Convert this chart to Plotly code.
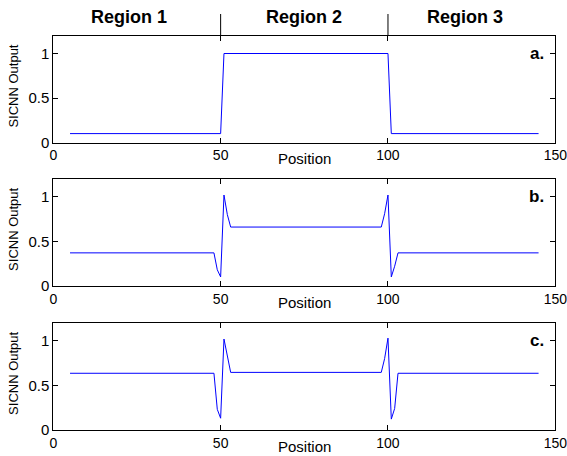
import plotly.graph_objects as go

# ---- data ----
pos_a = [5, 50, 51, 100, 101, 145]
out_a = [0.1, 0.1, 1.0, 1.0, 0.1, 0.1]

pos_b = [5, 48, 49, 50, 51, 52, 53, 98, 99, 100, 101, 102, 103, 145]
out_b = [0.37, 0.37, 0.18, 0.10, 1.02, 0.80, 0.66, 0.66, 0.81, 1.02, 0.10, 0.22, 0.37, 0.37]

pos_c = [5, 48, 49, 50, 51, 52, 53, 98, 99, 100, 101, 102, 103, 145]
out_c = [0.635, 0.635, 0.23, 0.13, 1.02, 0.82, 0.645, 0.645, 0.80, 1.03, 0.12, 0.24, 0.635, 0.635]

panel_labels = ["a.", "b.", "c."]
region_labels = ["Region 1", "Region 2", "Region 3"]
region_centers = [22.5, 74.9, 123.0]
boundaries = [50, 100]
x_ticks = [0, 50, 100, 150]
y_ticks = [0, 0.5, 1]

W, H = 567, 456
FONT = "Liberation Sans, Arial, sans-serif"

def py(px):
    return 1 - px / H

x_dom = [53.3 / W, 555.3 / W]
panels_px = [(35.7, 142.5), (179.0, 285.8), (323.0, 429.8)]

fig = go.Figure()
series = [(pos_a, out_a), (pos_b, out_b), (pos_c, out_c)]
for i, (xs, ys) in enumerate(series):
    n = "" if i == 0 else str(i + 1)
    fig.add_trace(go.Scatter(x=xs, y=ys, mode="lines",
                             line=dict(color="#0000FF", width=1),
                             xaxis="x" + n, yaxis="y" + n, showlegend=False))
    top, bot = panels_px[i]
    axcommon = dict(showline=True, linecolor="black", linewidth=1, mirror="ticks",
                    ticks="inside", ticklen=5, tickcolor="black", tickwidth=1,
                    showgrid=False, zeroline=False, automargin=False)
    fig.layout["xaxis" + n] = dict(domain=x_dom, range=[0, 150], tickvals=x_ticks,
                                   anchor="y" + n, ticklabeloverflow="allow",
                                   tickfont=dict(family=FONT, size=14, color="black"),
                                   **axcommon)
    fig.layout["yaxis" + n] = dict(domain=[py(bot), py(top)], range=[0, 1.2],
                                   tickvals=y_ticks, ticktext=["0", "0.5", "1"],
                                   anchor="x" + n,
                                   tickfont=dict(family=FONT, size=15, color="black"),
                                   **axcommon)
    # panel label
    fig.add_annotation(x=147.2, y=1.0, xref="x" + n, yref="y" + n, text="<b>%s</b>" % panel_labels[i],
                       showarrow=False, xanchor="right", yanchor="middle",
                       font=dict(family=FONT, size=17, color="black"))
    # y title
    fig.add_annotation(x=13.5 / W, y=py((top + bot) / 2 - 3), xref="paper", yref="paper",
                       text="SICNN Output", textangle=-90, showarrow=False,
                       xanchor="center", yanchor="middle",
                       font=dict(family=FONT, size=13, color="black"))
    # x title
    fig.add_annotation(x=75, y=py(bot + 16.5), xref="x" + n, yref="paper",
                       text="Position", showarrow=False, xanchor="center", yanchor="middle",
                       font=dict(family=FONT, size=15, color="black"))

# region labels and separators
for c, lab in zip(region_centers, region_labels):
    fig.add_annotation(x=c, y=py(17), xref="x", yref="paper", text="<b>%s</b>" % lab,
                       showarrow=False, xanchor="center", yanchor="middle",
                       font=dict(family=FONT, size=18, color="black"))
for b in boundaries:
    fig.add_shape(type="line", x0=b, x1=b, xref="x", yref="paper",
                  y0=py(panels_px[0][0]), y1=py(14), line=dict(color="black", width=1))

fig.update_layout(width=W, height=H, margin=dict(l=0, r=0, t=0, b=0, autoexpand=False),
                  paper_bgcolor="white", plot_bgcolor="white")
fig.write_html("out.html", config={"displayModeBar": False},
               post_script="document.body.style.margin='0px';")
